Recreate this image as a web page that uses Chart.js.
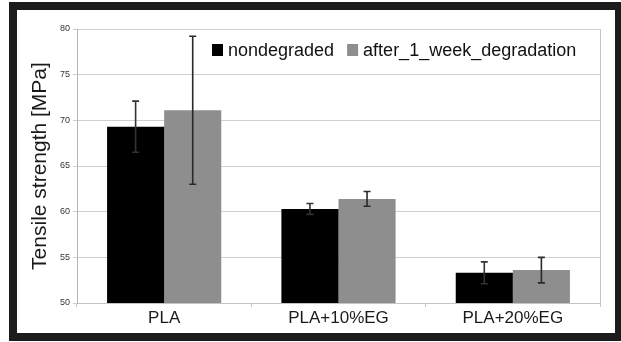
<!DOCTYPE html>
<html>
<head>
<meta charset="utf-8">
<script src="https://cdn.jsdelivr.net/npm/chart.js@4/dist/chart.umd.min.js"></script>
<style>
  html, body { margin: 0; padding: 0; background: #ffffff; }
  #wrap { position: relative; width: 621px; height: 342px; overflow: hidden; }
  #chart { position: absolute; left: 0; top: 0; }
  #frame {
    position: absolute; left: 9px; top: 2px; width: 614px; height: 339px;
    box-sizing: border-box; border: 8px solid #1c1c1c; pointer-events: none;
  }
</style>
</head>
<body>
<div id="wrap">
  <canvas id="chart" width="621" height="342"></canvas>
  <div id="frame"></div>
</div>
<script>
// Tensile strength of PLA and PLA/EG composites, before and after one week of degradation
const categories = ['PLA', 'PLA+10%EG', 'PLA+20%EG'];
const nondegraded = [69.3, 60.3, 53.3];
const nondegradedErr = [2.8, 0.6, 1.2];
const degraded = [71.1, 61.4, 53.6];
const degradedErr = [8.1, 0.8, 1.4];
const yTicks = [50, 55, 60, 65, 70, 75, 80];

const FONT = "'Liberation Sans', Arial, sans-serif";

// Error bars: vertical whiskers with short caps, centred on each bar
const errorBars = {
  id: 'errorBars',
  afterDatasetsDraw(chart) {
    const ctx = chart.ctx;
    const y = chart.scales.y;
    chart.data.datasets.forEach((ds, di) => {
      const meta = chart.getDatasetMeta(di);
      meta.data.forEach((bar, i) => {
        const v = ds.data[i], e = ds.errors[i];
        const top = y.getPixelForValue(v + e);
        const bot = y.getPixelForValue(v - e);
        ctx.save();
        ctx.strokeStyle = ds.errorColor;
        ctx.lineWidth = 1.6;
        ctx.beginPath();
        ctx.moveTo(bar.x, top); ctx.lineTo(bar.x, bot);
        ctx.moveTo(bar.x - 3.5, top); ctx.lineTo(bar.x + 3.5, top);
        ctx.moveTo(bar.x - 3.5, bot); ctx.lineTo(bar.x + 3.5, bot);
        ctx.stroke();
        ctx.restore();
      });
    });
  }
};

// Right-hand border of the plot area
const plotBorder = {
  id: 'plotBorder',
  beforeDatasetsDraw(chart) {
    const { ctx, chartArea: a } = chart;
    ctx.save();
    ctx.strokeStyle = '#c4c4c4';
    ctx.lineWidth = 1;
    ctx.beginPath();
    ctx.moveTo(Math.round(a.right) + 0.5, a.top);
    ctx.lineTo(Math.round(a.right) + 0.5, a.bottom + 4);
    ctx.stroke();
    ctx.restore();
  }
};

// Legend drawn inside the plot area, near the top
const innerLegend = {
  id: 'innerLegend',
  afterDraw(chart) {
    const { ctx, chartArea: a } = chart;
    ctx.save();
    ctx.font = '18px ' + FONT;
    ctx.textBaseline = 'middle';
    const box = 11, gapText = 5, gapItem = 13;
    let x = a.left + 135;
    const yc = a.top + 21;
    chart.data.datasets.forEach(ds => {
      ctx.fillStyle = ds.backgroundColor;
      ctx.fillRect(x, yc - 6, box, 12);
      x += box + gapText;
      ctx.fillStyle = '#111111';
      ctx.fillText(ds.label, x, yc + 1);
      x += ctx.measureText(ds.label).width + gapItem;
    });
    ctx.restore();
  }
};

new Chart(document.getElementById('chart'), {
  type: 'bar',
  data: {
    labels: categories,
    datasets: [
      { label: 'nondegraded', data: nondegraded, errors: nondegradedErr,
        backgroundColor: '#000000', errorColor: '#333333' },
      { label: 'after_1_week_degradation', data: degraded, errors: degradedErr,
        backgroundColor: '#8e8e8e', errorColor: '#2a2a2a' }
    ]
  },
  options: {
    responsive: false,
    animation: false,
    devicePixelRatio: 1,
    layout: { padding: { left: 0, right: 21, top: 29, bottom: 0 } },
    datasets: { bar: { categoryPercentage: 0.655, barPercentage: 1.0 } },
    plugins: { legend: { display: false }, tooltip: { enabled: false } },
    scales: {
      x: {
        grid: { offset: true, drawOnChartArea: false, color: '#c4c4c4', tickLength: 4 },
        border: { color: '#c4c4c4' },
        ticks: { color: '#1a1a1a', font: { family: FONT, size: 17 }, padding: 1 },
        afterFit(s) { s.height = 39; }
      },
      y: {
        min: 50, max: 80,
        afterBuildTicks(s) { s.ticks = yTicks.map(v => ({ value: v })); },
        grid: { color: '#cfcfcf', tickLength: 4 },
        border: { color: '#b4b4b4' },
        ticks: { color: '#333333', font: { family: FONT, size: 9 }, padding: 3 },
        title: { display: true, text: 'Tensile strength [MPa]', color: '#1a1a1a',
                 font: { family: FONT, size: 21 }, padding: { top: 28, bottom: 0 } },
        afterFit(s) { s.width = 77; }
      }
    }
  },
  plugins: [plotBorder, errorBars, innerLegend]
});
</script>
</body>
</html>
